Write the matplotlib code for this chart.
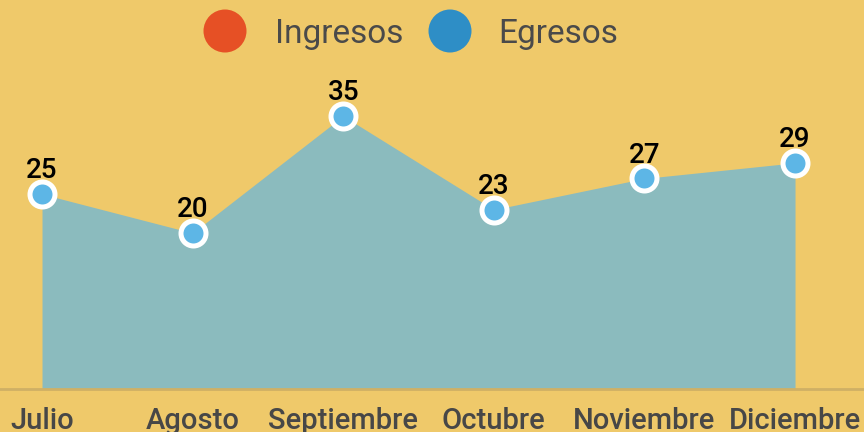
import matplotlib.pyplot as plt
from matplotlib.patches import Circle

# data
months = ['Julio', 'Agosto', 'Septiembre', 'Octubre', 'Noviembre', 'Diciembre']
egresos = [25, 20, 35, 23, 27, 29]
series = ['Ingresos', 'Egresos']
series_colors = ['#E65025', '#2E8EC6']

bg = '#EFC96A'
plt.rcParams['font.family'] = ['Roboto', 'DejaVu Sans']

fig = plt.figure(figsize=(8.64, 4.32), dpi=100, facecolor=bg)
ax = fig.add_axes([0, 0, 1, 1])
ax.set_facecolor(bg)

x = list(range(len(months)))
ax.fill_between(x, egresos, 0, color='#8BBBBE', lw=0, zorder=1)
ax.plot(x, egresos, ls='none', marker='o', ms=18, mew=3.6,
        mfc='#5DB6E6', mec='white', zorder=3, clip_on=False)
for xi, v in zip(x, egresos):
    ax.annotate(str(v), (xi, v), xytext=(0, 7), textcoords='offset points',
                ha='center', va='bottom', fontsize=20, fontweight='medium',
                color='black', zorder=4)

ax.axhline(0, color='#CFB065', lw=2, zorder=2)

ax.set_xlim(-0.279, 5.458)
ax.set_ylim(-5.51, 49.87)
ax.set_xticks([])
ax.set_yticks([])
for s in ax.spines.values():
    s.set_visible(False)

# month labels below the baseline (cut by the bottom edge as in the original)
for xi, m in zip(x, months):
    ax.text(xi, -5.15, m, ha='center', va='baseline', fontsize=21,
            fontweight='medium', color='#474747')

# legend drawn by hand: big dots + labels
for cx, tx, name, c in zip([2.25, 4.50], [275, 498], series, series_colors):
    fig.add_artist(Circle((cx, 4.32 - 0.31), 0.215, color=c,
                          transform=fig.dpi_scale_trans, lw=0))
    fig.text(tx / 864, 1 - 34 / 432, name, ha='left', va='center',
             fontsize=24, color='#4a4a4a')

fig.savefig('out.png', dpi=100, facecolor=bg)
